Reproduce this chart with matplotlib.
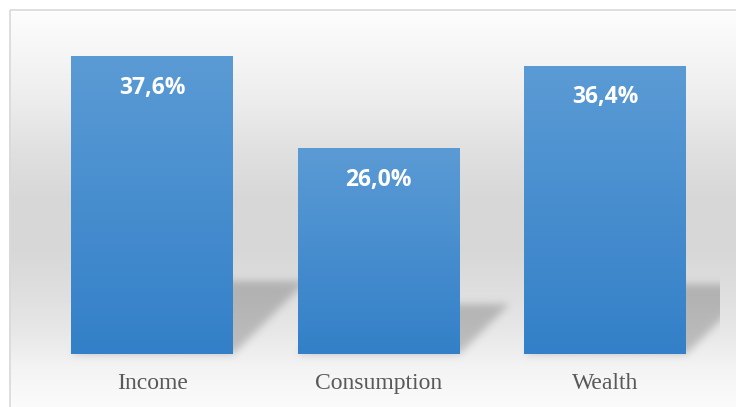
import numpy as np
import matplotlib
matplotlib.use("Agg")
import matplotlib.pyplot as plt
from matplotlib.colors import LinearSegmentedColormap
from matplotlib.patches import Rectangle

# data
categories = ["Income", "Consumption", "Wealth"]
shares = [37.6, 26.0, 36.4]

W, H = 736, 407
fig = plt.figure(figsize=(W / 100, H / 100), dpi=100)

# background layer in pixel coordinates (y grows downwards)
bg = fig.add_axes([0, 0, 1, 1], zorder=0)
bg.set_xlim(0, W)
bg.set_ylim(H, 0)
bg.axis("off")

# main axes: plot area
left_px, right_px, top_px, base_px = 39, 718.5, 38, 354
ax = fig.add_axes([left_px / W, 1 - base_px / H,
                   (right_px - left_px) / W, (base_px - top_px) / H], zorder=2)
ax.set_facecolor("none")
x = np.arange(len(categories))
bar_w = 0.715
bars = ax.bar(x, shares, width=bar_w, color="#4a8fd0", edgecolor="none", zorder=2)
ax.set_xlim(-0.5, len(categories) - 0.5)
ax.set_ylim(0, 40)

# vertical gradient inside each bar
blue = LinearSegmentedColormap.from_list("bar", ["#5b9bd5", "#3380c8"])
grad = np.linspace(0, 1, 256).reshape(-1, 1)
for b in bars:
    x0, x1 = b.get_x(), b.get_x() + b.get_width()
    ax.imshow(grad, cmap=blue, aspect="auto", extent=(x0, x1, 0, b.get_height()),
              origin="upper", zorder=3, interpolation="bilinear")
ax.set_xlim(-0.5, len(categories) - 0.5)
ax.set_ylim(0, 40)

# value labels
for xi, v in zip(x, shares):
    ax.annotate(f"{v:.1f}".replace(".", ",") + "%", (xi, v), xytext=(0, -31),
                textcoords="offset pixels", ha="center", va="center",
                color="white", fontweight="bold", fontsize=16.5, family="Open Sans", zorder=4)

ax.set_xticks(x, categories, fontsize=17, color="#595959", family="Liberation Serif")
ax.tick_params(axis="x", length=0, pad=14)
ax.set_yticks([])
for s in ax.spines.values():
    s.set_visible(False)

# chart background: vertical grey gradient
yy, xx = np.mgrid[0:H, 0:W] + 0.5
stops_y = [9, 100, 150, 200, 250, 300, 333, 367, 400, 407]
stops_v = [0.995, 0.93, 0.88, 0.845, 0.845, 0.88, 0.91, 0.955, 0.98, 0.985]
gray = np.interp(yy, stops_y, stops_v)

# perspective shadows cast behind each bar
mask = np.zeros((H, W))
to_px = ax.transData
for b in bars:
    (bx0, by0), (bx1, by1) = to_px.transform([(b.get_x(), 0),
                                              (b.get_x() + b.get_width(), b.get_height())])
    yb, yt = H - by0, H - by1
    sh = 0.245 * (yb - yt)
    k = 1.0
    d = yb - yy
    inside = (d >= 0) & (d <= sh) & (xx >= bx0 + k * d) & (xx <= bx1 + k * d)
    mask = np.maximum(mask, inside.astype(float))

sig = 4.0
r = np.arange(-12, 13)
kern = np.exp(-r ** 2 / (2 * sig ** 2))
kern /= kern.sum()
mask = np.apply_along_axis(lambda c: np.convolve(c, kern, mode="same"), 0, mask)
mask = np.apply_along_axis(lambda c: np.convolve(c, kern, mode="same"), 1, mask)
mask[:, int(right_px) + 2:] = 0

img = gray * (1 - 0.2 * mask)
img[(xx < 9) | (yy < 9)] = 1.0
bg.imshow(np.dstack([img] * 3), extent=(0, W, H, 0), interpolation="bilinear", aspect="auto")
bg.set_xlim(0, W)
bg.set_ylim(H, 0)
bg.add_patch(Rectangle((9.5, 9.5), W + 10, H + 10, fill=False, edgecolor="#d9d9d9", lw=1.2))

fig.savefig("out.png", dpi=100)
